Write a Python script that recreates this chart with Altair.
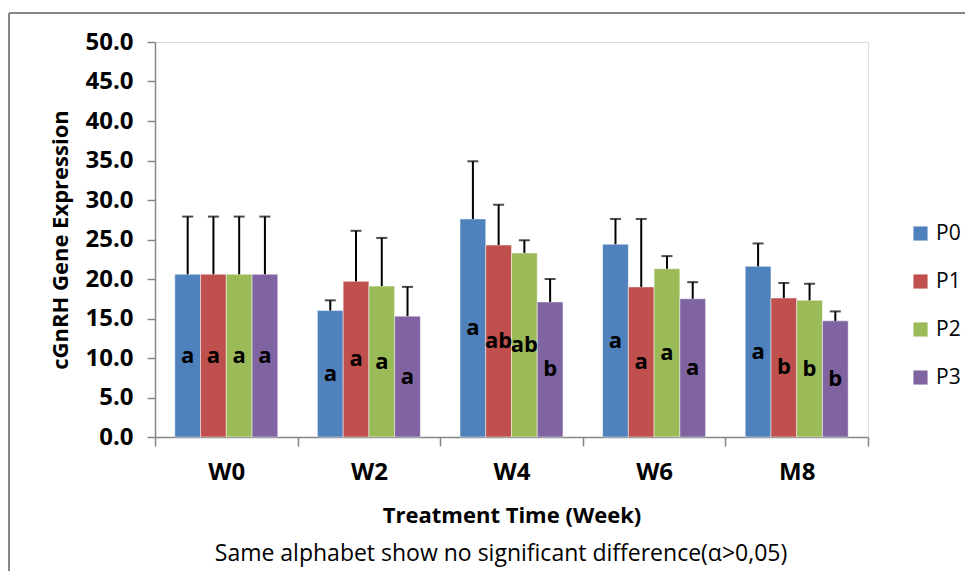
import altair as alt
import pandas as pd

groups = ["W0", "W2", "W4", "W6", "M8"]
series = ["P0", "P1", "P2", "P3"]
colors = ["#4F81BD", "#C0504D", "#9BBB59", "#8064A2"]

p0_mean = [20.6, 16.0, 27.6, 24.4, 21.6]
p1_mean = [20.6, 19.7, 24.3, 19.0, 17.6]
p2_mean = [20.6, 19.1, 23.3, 21.3, 17.3]
p3_mean = [20.6, 15.3, 17.1, 17.5, 14.7]

p0_sd = [7.3, 1.3, 7.3, 3.2, 2.9]
p1_sd = [7.3, 6.4, 5.1, 8.6, 1.9]
p2_sd = [7.3, 6.1, 1.6, 1.6, 2.1]
p3_sd = [7.3, 3.7, 2.9, 2.1, 1.2]

p0_lab = ["a", "a", "a", "a", "a"]
p1_lab = ["a", "a", "ab", "a", "b"]
p2_lab = ["a", "a", "ab", "a", "b"]
p3_lab = ["a", "a", "b", "a", "b"]

y_ticks = [0, 5, 10, 15, 20, 25, 30, 35, 40, 45, 50]
note_text = ["Same alphabet show no significant difference(\u03b1>0,05)"]

means = [p0_mean, p1_mean, p2_mean, p3_mean]
sds = [p0_sd, p1_sd, p2_sd, p3_sd]
labs = [p0_lab, p1_lab, p2_lab, p3_lab]

rows = []
for si, s in enumerate(series):
    for gi, g in enumerate(groups):
        m = means[si][gi]
        sd = sds[si][gi]
        rows.append({"group": g, "series": s, "value": m, "top": m + sd,
                     "mid": m / 2, "label": labs[si][gi]})
df = pd.DataFrame(rows)
note_df = pd.DataFrame({"note": note_text})

FONT = "Open Sans"
GRAY = "#868686"

x_axis = alt.Axis(title="Treatment Time (Week)", labelAngle=0,
                  tickBand="extent", tickSize=9, tickColor=GRAY,
                  tickWidth=1.5, domainColor=GRAY, domainWidth=1.5,
                  labelFont=FONT, labelFontSize=24, labelFontWeight="bold",
                  labelColor="black", labelPadding=14,
                  titleFont=FONT, titleFontSize=22, titleFontWeight="bold",
                  titleColor="black", titlePadding=21)
y_axis = alt.Axis(title="cGnRH Gene Expression", values=y_ticks,
                  format=".1f", grid=False, tickSize=8, tickColor=GRAY,
                  tickWidth=1.5, domainColor=GRAY, domainWidth=1.5,
                  labelOverlap=False,
                  labelFont=FONT, labelFontSize=24, labelFontWeight="bold",
                  labelColor="black", labelPadding=14,
                  titleFont=FONT, titleFontSize=22, titleFontWeight="bold",
                  titleColor="black", titlePadding=12)
x_scale = alt.Scale(paddingInner=0, paddingOuter=0)
y_scale = alt.Scale(domain=[0, 50], nice=False)


def X():
    return alt.X("group:N", sort=groups, scale=x_scale, axis=x_axis)


def Y(field):
    return alt.Y(field, scale=y_scale, axis=y_axis)


xo_enc = alt.XOffset("series:N", sort=series,
                     scale=alt.Scale(paddingInner=0, paddingOuter=0.77))

base = alt.Chart(df)

bars = base.mark_bar(stroke="white", strokeWidth=0.8, strokeOpacity=0.6).encode(
    x=X(), xOffset=xo_enc, y=Y("value:Q"),
    color=alt.Color("series:N", sort=series,
                    scale=alt.Scale(domain=series, range=colors),
                    legend=alt.Legend(title=None, orient="none", legendX=755, legendY=181,
                                      symbolType="square", symbolSize=200,
                                      symbolStrokeWidth=0, labelFont=FONT,
                                      labelFontSize=21, labelColor="black",
                                      labelOffset=5, rowPadding=26, padding=0)),
)

stems = base.mark_rule(color="black", strokeWidth=2).encode(
    x=X(), xOffset=xo_enc, y=Y("value:Q"), y2="top:Q")

caps = base.mark_tick(color="black", thickness=2, size=11, orient="horizontal").encode(
    x=X(), xOffset=xo_enc, y=Y("top:Q"))

texts = base.mark_text(font=FONT, fontSize=22, fontWeight="bold", color="black",
                       baseline="middle").encode(
    x=X(), xOffset=xo_enc, y=Y("mid:Q"), text="label:N")

note = alt.Chart(note_df).mark_text(font=FONT, fontSize=23, color="black",
                                    baseline="middle", align="center").encode(
    x=alt.value(346), y=alt.value(512), text="note:N")

border_top = alt.Chart(note_df).mark_rule(color=GRAY, strokeWidth=2).encode(
    x=alt.value(-146), x2=alt.value(830), y=alt.value(-29))
border_left = alt.Chart(note_df).mark_rule(color=GRAY, strokeWidth=2).encode(
    x=alt.value(-146), y=alt.value(-29), y2=alt.value(600))

chart = alt.layer(border_top, border_left, bars, stems, caps, texts, note).properties(
    width=713, height=395,
    autosize=alt.AutoSizeParams(type="none"),
    padding={"left": 147, "top": 34, "right": 97, "bottom": 134},
).configure_view(stroke=None).configure(background="white")

chart.save("out.html", embed_options={"renderer": "svg", "actions": False})
